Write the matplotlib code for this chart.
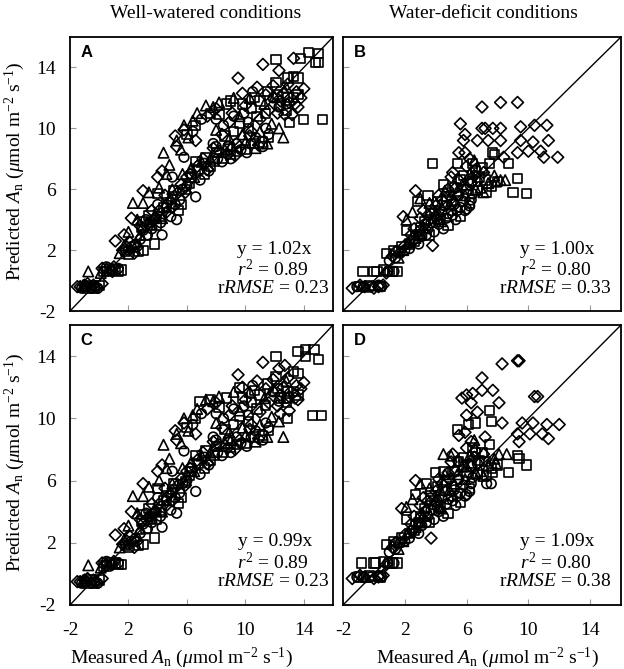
import numpy as np
import matplotlib
matplotlib.use("Agg")
import matplotlib.pyplot as plt

plt.rcParams['font.family'] = ['Liberation Serif', 'DejaVu Serif']
plt.rcParams['mathtext.fontset'] = 'custom'
plt.rcParams['mathtext.rm'] = 'Liberation Serif'
plt.rcParams['mathtext.it'] = 'Liberation Serif:italic'
plt.rcParams['axes.unicode_minus'] = False

# (measured, predicted) pairs, one list per marker and panel
a_squares = [(-1.0, -0.4), (-0.6, -0.3), (-0.3, -0.5), (0.0, -0.3), (0.3, 0.6), (0.7, 0.8), (1.1, 0.7),
             (1.5, 0.7), (1.8, 1.9), (2.4, 2.2), (3.0, 2.0), (3.8, 2.4), (2.9, 3.5), (3.5, 3.8), (4.2, 4.2),
             (4.6, 5.1), (5.0, 5.5), (5.4, 4.6), (5.9, 6.0), (6.3, 6.8), (6.8, 7.3), (7.2, 7.0), (7.6, 7.5),
             (8.0, 8.4), (7.6, 11.0), (8.2, 10.9), (8.6, 9.5), (9.2, 9.8), (9.6, 10.3), (10.2, 10.0),
             (10.6, 12.0), (11.0, 11.8), (11.5, 12.4), (12.1, 13.0), (12.4, 11.5), (12.9, 12.0), (13.3, 13.4),
             (13.6, 13.3), (12.9, 13.3), (13.6, 12.2), (14.3, 15.0), (15.0, 14.9), (14.8, 14.3), (15.0, 14.3),
             (13.8, 14.6), (12.1, 14.5), (14.0, 10.6), (15.3, 10.6), (13.0, 10.4), (9.0, 8.3), (10.0, 8.6),
             (11.2, 9.1), (4.0, 5.7), (3.2, 3.0), (6.0, 9.6), (6.6, 10.2), (9.0, 11.8), (10.4, 11.3),
             (3.0, 3.9), (3.4, 4.3), (3.9, 3.6), (4.4, 4.8), (5.1, 5.9), (5.6, 5.0), (6.2, 6.4), (6.6, 7.8),
             (7.3, 8.1), (7.9, 7.8), (8.5, 8.0), (9.4, 8.5), (10.6, 9.0), (11.6, 9.4), (12.2, 12.2),
             (12.8, 11.2), (13.3, 12.0), (10.8, 10.8), (11.4, 11.0), (9.8, 11.6), (8.7, 11.6), (2.0, 1.7),
             (2.7, 1.9), (-0.8, -0.5), (0.5, 0.6), (1.3, 0.6)]
a_diamonds = [(-1.3, -0.4), (-0.8, -0.2), (-0.2, -0.4), (0.2, -0.2), (0.5, 0.7), (1.0, 0.9), (1.1, 2.6),
              (1.6, 2.0), (2.1, 2.5), (2.6, 2.2), (1.7, 3.0), (2.2, 4.1), (2.8, 3.6), (3.0, 5.9), (3.6, 4.6),
              (4.3, 7.2), (4.0, 6.8), (4.8, 5.2), (5.3, 8.8), (5.2, 9.5), (5.8, 9.9), (5.6, 6.3), (6.2, 7.0),
              (6.6, 9.2), (7.1, 8.0), (7.4, 10.8), (8.0, 11.3), (8.4, 9.6), (8.9, 10.4), (9.5, 13.3),
              (9.8, 12.3), (10.3, 9.5), (10.8, 12.7), (11.2, 14.2), (11.6, 11.2), (11.9, 12.8), (12.2, 11.0),
              (12.6, 12.3), (13.0, 11.7), (13.3, 14.6), (13.5, 12.4), (13.8, 12.0), (13.6, 11.4), (12.7, 10.9),
              (13.2, 10.9), (12.3, 13.8), (14.0, 12.6), (10.9, 8.9), (9.3, 8.2), (5.9, 5.8), (4.6, 4.5),
              (7.8, 8.7), (-1.5, -0.4), (-0.4, -0.3), (0.9, 0.6),
              (3.2, 3.6), (3.7, 4.0), (4.1, 4.6), (4.5, 5.6), (5.0, 4.8), (5.4, 5.8), (6.0, 6.8), (6.7, 7.5),
              (7.4, 7.3), (8.2, 8.5), (8.8, 8.3), (9.6, 8.8), (10.4, 9.8), (11.0, 10.6), (12.4, 11.8),
              (12.9, 12.9), (13.4, 11.6), (11.4, 12.2), (10.0, 11.5), (9.1, 11.0), (1.9, 2.2), (2.4, 1.8),
              (-1.0, -0.3), (0.2, 0.8)]
a_triangles = [(-0.75, 0.6), (-1.1, -0.3), (0.1, 0.5), (1.4, 1.8), (2.3, 5.1), (3.0, 5.1), (2.0, 3.2),
               (2.6, 4.0), (3.4, 5.8), (4.4, 8.4), (4.1, 6.1), (4.8, 7.6), (5.3, 9.2), (5.8, 10.2),
               (6.7, 11.0), (6.4, 10.5), (7.3, 11.5), (8.2, 11.7), (7.0, 7.8), (6.5, 6.8), (8.6, 8.6),
               (9.0, 8.8), (10.0, 9.1), (10.7, 8.7), (11.5, 9.0), (12.6, 9.4), (11.8, 10.3), (9.6, 10.8),
               (10.3, 12.0), (12.0, 12.1), (5.0, 6.0), (3.8, 4.3), (8.0, 9.9), (11.3, 11.6), (12.8, 12.7),
               (2.8, 3.0), (3.5, 3.7), (4.3, 4.1), (4.9, 5.4), (5.7, 7.0), (6.3, 7.4), (7.6, 8.0), (8.9, 9.3),
               (9.8, 9.6), (11.0, 9.8), (12.3, 10.0), (4.6, 7.0), (5.6, 8.6), (6.1, 9.4), (7.8, 11.4),
               (9.2, 12.0), (1.7, 2.3)]
a_circles = [(-0.5, -0.5), (0.5, 0.9), (2.0, 2.0), (2.8, 2.7), (3.2, 4.0), (3.6, 3.4), (4.3, 3.0),
             (4.0, 5.0), (4.6, 4.8), (5.3, 4.0), (5.0, 6.8), (5.5, 5.3), (6.6, 5.5), (6.0, 6.2), (5.8, 8.1),
             (6.4, 9.8), (7.0, 10.6), (6.9, 6.6), (7.5, 7.2), (8.1, 8.0), (8.4, 7.8), (9.0, 8.0), (9.4, 9.0),
             (10.1, 8.4), (10.7, 9.4), (11.2, 8.8), (11.6, 9.6), (9.9, 11.0), (10.5, 12.4), (11.9, 12.0),
             (12.8, 11.6), (8.5, 10.2), (7.8, 9.0), (3.0, 3.3), (2.5, 2.4), (-1.2, -0.5), (-0.9, -0.4),
             (-0.1, -0.5), (1.3, 0.8),
             (3.3, 3.0), (3.9, 4.1), (4.2, 3.8), (4.9, 4.2), (5.2, 5.0), (5.7, 6.0), (6.3, 7.0), (7.2, 7.7),
             (8.0, 8.8), (8.8, 8.8), (9.7, 8.6), (10.4, 9.0), (11.4, 10.0), (12.3, 11.4), (10.2, 10.4),
             (9.2, 10.8), (8.0, 10.6), (2.2, 2.2), (-0.3, -0.4), (0.8, 0.7)]

b_squares = [(-1.0, -0.4), (-0.3, -0.3), (0.4, -0.4), (-0.7, 0.6), (0.2, 0.6), (0.6, 0.7), (1.0, 0.6),
             (1.5, 0.6), (0.8, 1.8), (1.3, 2.0), (1.8, 2.2), (2.1, 3.3), (2.8, 5.2), (3.5, 5.6), (2.6, 2.6),
             (3.0, 3.5), (3.6, 3.0), (3.9, 4.4), (4.3, 4.0), (3.8, 7.7), (4.5, 6.3), (5.0, 5.2), (5.4, 7.7),
             (5.6, 6.6), (6.0, 6.0), (6.4, 7.7), (6.8, 6.8), (7.0, 7.4), (7.3, 5.8), (7.7, 8.4), (7.8, 8.3),
             (8.0, 6.5), (8.7, 7.7), (9.3, 6.7), (9.0, 5.8), (9.9, 5.7), (6.2, 5.1), (4.8, 3.6), (5.6, 4.2),
             (6.7, 5.9),
             (1.6, 1.9), (2.3, 2.4), (2.9, 3.0), (3.3, 3.9), (3.7, 4.6), (4.1, 5.2), (4.7, 5.5), (5.2, 6.1),
             (5.8, 6.9), (6.3, 6.5), (6.6, 7.2), (7.2, 6.6), (7.6, 6.2), (7.5, 7.7), (0.0, 0.6), (1.2, 0.6)]
b_diamonds = [(-1.4, -0.5), (-0.9, -0.3), (0.0, -0.5), (0.6, -0.3), (0.8, 0.5), (1.2, 1.6), (1.9, 4.2),
              (2.7, 5.9), (3.8, 2.3), (2.4, 3.0), (3.2, 4.6), (4.4, 5.3), (5.0, 6.8), (5.5, 8.4), (5.8, 9.2),
              (5.9, 9.6), (5.6, 10.3), (6.7, 9.2), (7.0, 10.0), (7.2, 10.0), (7.4, 9.2), (7.7, 10.0),
              (8.2, 10.0), (8.2, 9.2), (7.0, 11.4), (8.2, 11.7), (9.3, 11.7), (9.5, 10.1), (9.5, 9.2),
              (10.4, 10.2), (11.2, 10.2), (10.3, 9.1), (11.3, 9.2), (10.0, 8.5), (9.3, 8.4), (10.8, 8.5),
              (11.0, 8.1), (11.9, 8.1), (8.4, 8.1), (6.2, 8.0), (6.3, 6.4), (4.0, 4.9), (5.3, 6.1), (6.6, 7.3),
              (1.4, 1.9), (2.0, 2.3), (2.6, 3.4), (3.0, 4.1), (3.5, 4.3), (4.2, 5.6), (4.8, 6.0), (5.1, 7.1),
              (5.5, 6.6), (6.0, 7.5), (6.5, 6.9), (7.1, 7.1), (5.9, 8.4), (-0.6, -0.4), (0.3, -0.4)]
b_triangles = [(-0.5, -0.4), (1.6, 1.5), (2.5, 4.5), (2.2, 2.5), (3.0, 3.1), (3.4, 4.0), (4.1, 4.6),
               (4.6, 5.9), (5.2, 5.3), (5.7, 6.3), (6.2, 7.0), (6.9, 6.1), (7.4, 6.4), (8.2, 6.6), (8.5, 6.6),
               (7.8, 6.9), (5.9, 5.6), (4.4, 3.9), (3.6, 5.1), (6.5, 7.9),
               (1.9, 2.0), (2.7, 2.8), (3.2, 3.5), (3.9, 4.1), (4.3, 5.0), (4.9, 5.0), (5.4, 5.9), (6.0, 6.3),
               (6.6, 6.0), (7.1, 5.8), (7.9, 6.5), (2.1, 4.0), (3.0, 5.4)]
b_circles = [(-1.1, -0.4), (-0.2, -0.4), (0.3, -0.3), (0.9, 0.6), (1.0, 1.3), (1.7, 1.8), (2.3, 2.1),
             (2.9, 2.4), (3.1, 2.9), (3.5, 3.4), (3.9, 3.2), (4.2, 3.7), (4.5, 3.4), (4.7, 4.1), (5.0, 4.6),
             (5.3, 4.0), (5.6, 4.8), (5.9, 4.6), (6.2, 4.9), (4.0, 4.2), (4.9, 5.6), (6.4, 5.7), (6.7, 6.5),
             (5.5, 5.6), (3.3, 3.7), (2.7, 3.0), (4.6, 4.9), (5.2, 5.0),
             (1.4, 1.5), (2.0, 2.0), (2.5, 2.6), (3.0, 3.3), (3.4, 3.0), (3.7, 3.8), (4.1, 4.0), (4.4, 4.5),
             (4.8, 4.4), (5.1, 4.3), (5.4, 4.6), (5.8, 5.2), (6.0, 4.7), (6.3, 5.3), (-0.7, -0.4), (0.5, -0.4),
             (1.3, 0.6)]

c_squares = [(-1.0, -0.5), (-0.6, -0.4), (-0.3, -0.6), (0.0, -0.4), (0.3, 0.5), (0.7, 0.7), (1.1, 0.7),
             (1.5, 0.6), (1.8, 1.8), (2.4, 2.1), (3.0, 1.9), (3.8, 2.3), (2.9, 3.4), (3.5, 3.7), (4.2, 4.1),
             (4.6, 5.0), (5.0, 5.4), (5.4, 4.5), (5.9, 5.9), (6.3, 6.6), (6.8, 7.1), (7.2, 6.8), (7.6, 7.3),
             (8.0, 8.2), (6.9, 11.1), (7.6, 11.2), (8.2, 10.7), (8.6, 9.3), (9.2, 9.6), (9.6, 10.1),
             (10.2, 9.8), (10.6, 11.8), (11.0, 11.5), (11.5, 12.2), (12.1, 12.7), (12.4, 11.3), (12.9, 11.7),
             (13.3, 13.0), (13.6, 12.9), (12.9, 11.3), (13.6, 11.5), (14.1, 14.4), (14.7, 14.4), (15.0, 13.8),
             (14.1, 14.0), (13.6, 14.3), (12.1, 14.0), (14.6, 10.2), (15.2, 10.2), (12.9, 10.0), (9.0, 8.1),
             (10.0, 8.4), (11.2, 8.9), (4.0, 5.5), (3.2, 2.9), (6.0, 9.4), (6.6, 10.0), (9.6, 12.0),
             (10.4, 11.0),
             (3.0, 3.8), (3.4, 4.2), (3.9, 3.5), (4.4, 4.7), (5.1, 5.8), (5.6, 4.9), (6.2, 6.3), (6.6, 7.6),
             (7.3, 7.9), (7.9, 7.6), (8.5, 7.8), (9.4, 8.3), (10.6, 8.8), (11.6, 9.2), (12.2, 11.9),
             (12.8, 11.0), (13.3, 11.7), (10.8, 10.6), (11.4, 10.8), (9.8, 11.3), (8.7, 11.3), (2.0, 1.7),
             (2.7, 1.8), (-0.8, -0.6), (0.5, 0.5), (1.3, 0.6)]
c_diamonds = [(-1.3, -0.5), (-0.8, -0.3), (-0.2, -0.5), (0.2, -0.3), (0.5, 0.6), (1.0, 0.8), (1.1, 2.5),
              (1.6, 1.9), (2.1, 2.4), (2.6, 2.1), (1.7, 2.9), (2.2, 4.0), (2.8, 3.5), (3.0, 5.8), (3.6, 4.5),
              (4.3, 7.0), (4.0, 6.6), (4.8, 5.1), (5.3, 8.6), (5.2, 9.2), (5.8, 9.7), (5.6, 6.1), (6.2, 6.8),
              (6.6, 9.0), (7.1, 7.8), (7.4, 10.6), (8.0, 11.0), (8.4, 9.4), (8.9, 10.2), (9.5, 12.8),
              (9.8, 12.0), (10.3, 9.3), (10.8, 12.4), (11.2, 13.6), (11.6, 11.0), (11.9, 12.5), (12.2, 10.8),
              (12.6, 12.0), (13.0, 11.4), (12.7, 13.4), (13.5, 12.1), (13.8, 11.9), (13.6, 11.2), (12.4, 10.3),
              (13.0, 10.5), (12.3, 13.2), (14.0, 12.3), (10.9, 8.7), (9.3, 8.0), (5.9, 5.7), (4.6, 4.4),
              (7.8, 8.5), (-1.5, -0.5), (-0.4, -0.4), (0.9, 0.6),
              (3.2, 3.5), (3.7, 3.9), (4.1, 4.5), (4.5, 5.5), (5.0, 4.7), (5.4, 5.7), (6.0, 6.6), (6.7, 7.3),
              (7.4, 7.1), (8.2, 8.3), (8.8, 8.1), (9.6, 8.6), (10.4, 9.6), (11.0, 10.4), (12.4, 11.5),
              (12.9, 12.6), (13.4, 11.3), (11.4, 11.9), (10.0, 11.2), (9.1, 10.8), (1.9, 2.1), (2.4, 1.7),
              (-1.0, -0.4), (0.2, 0.7)]
c_triangles = [(-0.75, 0.55), (-1.1, -0.4), (0.1, 0.4), (1.4, 1.7), (2.3, 5.0), (3.0, 5.0), (2.0, 3.1),
               (2.6, 3.9), (3.4, 5.6), (4.4, 8.3), (4.1, 6.0), (4.8, 7.4), (5.3, 9.0), (5.8, 10.0),
               (6.7, 10.6), (6.4, 10.2), (7.3, 11.2), (8.2, 11.4), (7.0, 7.6), (6.5, 6.6), (8.6, 8.4),
               (9.0, 8.6), (10.0, 8.9), (10.7, 8.5), (11.5, 8.8), (12.6, 8.8), (11.8, 10.1), (9.6, 10.5),
               (10.3, 11.7), (12.0, 11.8), (5.0, 5.8), (3.8, 4.2), (8.0, 9.7), (11.3, 11.3), (12.8, 12.4),
               (2.8, 2.9), (3.5, 3.6), (4.3, 4.0), (4.9, 5.3), (5.7, 6.8), (6.3, 7.2), (7.6, 7.8), (8.9, 9.1),
               (9.8, 9.4), (11.0, 9.6), (12.3, 9.8), (4.6, 6.8), (5.6, 8.4), (6.1, 9.2), (7.8, 11.1),
               (9.2, 11.7), (1.7, 2.2)]
c_circles = [(-0.5, -0.6), (0.5, 0.8), (2.0, 1.9), (2.8, 2.6), (3.2, 3.9), (3.6, 3.3), (4.3, 3.0),
             (4.0, 4.9), (4.6, 4.7), (5.3, 3.9), (5.0, 6.6), (5.5, 5.2), (6.6, 5.3), (6.0, 6.0), (5.8, 7.9),
             (6.4, 9.6), (7.0, 10.3), (6.9, 6.4), (7.5, 7.0), (8.1, 7.8), (8.4, 7.6), (9.0, 7.8), (9.4, 8.8),
             (10.1, 8.2), (10.7, 9.2), (11.2, 8.6), (11.6, 9.4), (9.9, 10.8), (10.5, 12.1), (11.9, 11.7),
             (12.8, 11.3), (8.5, 10.0), (7.8, 8.8), (3.0, 3.2), (2.5, 2.3), (-1.2, -0.6), (-0.9, -0.5),
             (-0.1, -0.6), (1.3, 0.7),
             (3.3, 2.9), (3.9, 4.0), (4.2, 3.7), (4.9, 4.1), (5.2, 4.9), (5.7, 5.8), (6.3, 6.8), (7.2, 7.5),
             (8.0, 8.6), (8.8, 8.6), (9.7, 8.4), (10.4, 8.8), (11.4, 9.7), (12.3, 11.1), (10.2, 10.2),
             (9.2, 10.6), (8.0, 10.3), (2.2, 2.1), (-0.3, -0.5), (0.8, 0.6)]

d_squares = [(-1.0, -0.2), (-0.3, -0.1), (0.4, -0.2), (-0.8, 0.7), (0.1, 0.7), (0.6, 0.8), (1.0, 0.7),
             (1.5, 0.7), (0.8, 1.9), (1.3, 2.1), (1.8, 2.3), (2.1, 3.5), (2.7, 5.1), (3.4, 5.8), (2.6, 2.8),
             (3.0, 3.7), (3.6, 3.3), (3.9, 4.7), (4.3, 4.3), (5.4, 9.3), (6.1, 9.6), (6.6, 9.7), (7.5, 10.5),
             (7.6, 9.8), (4.5, 6.6), (5.0, 5.6), (5.5, 7.2), (5.8, 7.0), (6.0, 6.5), (6.4, 8.1), (6.8, 7.3),
             (7.0, 7.8), (7.3, 6.3), (7.7, 6.5), (8.0, 7.0), (8.7, 6.5), (9.3, 7.6), (9.4, 7.4), (9.9, 7.0),
             (6.2, 5.5), (4.8, 3.9), (5.6, 4.6), (6.7, 6.4), (4.0, 6.5),
             (1.6, 2.0), (2.3, 2.6), (2.9, 3.3), (3.3, 4.2), (3.7, 5.0), (4.1, 5.6), (4.7, 6.0), (5.2, 6.6),
             (5.8, 7.5), (6.3, 7.1), (6.6, 7.8), (7.2, 7.2), (7.6, 6.8), (7.5, 8.3), (0.0, 0.7), (1.2, 0.7)]
d_diamonds = [(-1.4, -0.3), (-0.9, -0.1), (0.0, -0.3), (0.6, -0.1), (0.8, 0.6), (1.2, 1.7), (1.8, 4.2),
              (2.7, 6.0), (3.7, 2.3), (2.4, 3.2), (3.2, 4.9), (4.4, 5.8), (5.0, 7.2), (5.7, 11.3), (6.0, 11.5),
              (6.4, 11.6), (7.0, 11.8), (7.7, 11.8), (6.3, 11.0), (8.1, 11.0), (6.7, 10.4), (6.0, 10.2),
              (8.3, 9.7), (7.0, 12.6), (8.3, 13.5), (9.4, 13.7), (9.3, 13.7), (10.4, 11.4), (10.6, 11.4),
              (9.6, 9.7), (10.3, 9.7), (11.2, 9.6), (12.0, 9.6), (9.3, 9.0), (10.1, 9.0), (10.9, 9.0),
              (11.3, 8.7), (9.4, 8.5), (5.5, 8.9), (6.3, 8.5), (6.3, 6.9), (4.0, 5.3), (5.3, 6.6), (6.6, 7.9),
              (7.2, 8.8),
              (1.4, 2.0), (2.0, 2.5), (2.6, 3.7), (3.0, 4.4), (3.5, 4.7), (4.2, 6.1), (4.8, 6.5), (5.1, 7.7),
              (5.5, 7.2), (6.0, 8.1), (6.5, 7.5), (7.1, 7.7), (5.9, 9.1), (-0.6, -0.2), (0.3, -0.2)]
d_triangles = [(-0.5, -0.2), (1.6, 1.6), (2.5, 4.8), (2.2, 2.7), (3.0, 3.3), (3.4, 4.3), (4.1, 5.0),
               (4.6, 6.4), (5.2, 5.8), (5.7, 6.9), (6.2, 7.6), (6.9, 6.6), (7.4, 7.0), (8.1, 7.7), (8.6, 7.7),
               (7.8, 7.4), (5.9, 6.1), (4.4, 4.2), (3.6, 5.5), (6.5, 8.6), (4.5, 7.7), (5.0, 7.6),
               (1.9, 2.1), (2.7, 3.0), (3.2, 3.8), (3.9, 4.5), (4.3, 5.4), (4.9, 5.4), (5.4, 6.4), (6.0, 6.9),
               (6.6, 6.5), (7.1, 6.3), (7.9, 7.1), (2.1, 4.3), (3.0, 5.8)]
d_circles = [(-1.1, -0.2), (-0.2, -0.2), (0.3, -0.1), (0.9, 0.7), (1.0, 1.4), (1.7, 2.0), (2.3, 2.3),
             (2.9, 2.6), (3.1, 3.1), (3.5, 3.7), (3.9, 3.5), (4.2, 4.0), (4.5, 3.7), (4.7, 4.5), (5.0, 5.0),
             (5.3, 4.4), (5.6, 5.2), (5.9, 5.0), (6.2, 5.3), (4.0, 4.6), (4.9, 6.1), (6.4, 6.2), (6.7, 7.1),
             (5.5, 6.1), (3.3, 4.0), (2.7, 3.2), (7.3, 5.8), (7.6, 5.8), (4.6, 5.3), (5.2, 5.4),
             (1.4, 1.6), (2.0, 2.1), (2.5, 2.8), (3.0, 3.6), (3.4, 3.3), (3.7, 4.1), (4.1, 4.3), (4.4, 4.9),
             (4.8, 4.8), (5.1, 4.7), (5.4, 5.0), (5.8, 5.7), (6.0, 5.1), (6.3, 5.8), (-0.7, -0.2), (0.5, -0.2),
             (1.3, 0.7)]

fit_lines = ['y = 1.02x', 'y = 1.00x', 'y = 0.99x', 'y = 1.09x']
r2_values = ['0.89', '0.80', '0.89', '0.80']
rrmse_values = ['0.23', '0.33', '0.23', '0.38']
panel_letters = ['A', 'B', 'C', 'D']
ticks = [-2, 2, 6, 10, 14]

panels = [
    [a_squares, a_diamonds, a_triangles, a_circles],
    [b_squares, b_diamonds, b_triangles, b_circles],
    [c_squares, c_diamonds, c_triangles, c_circles],
    [d_squares, d_diamonds, d_triangles, d_circles],
]
markers = [('s', 44), ('D', 36), ('^', 56), ('o', 48)]

# axes boxes in figure fractions [left, bottom, width, height]
boxes = [
    [0.1122, 0.5351, 0.4215, 0.4096],
    [0.5497, 0.5351, 0.4455, 0.4096],
    [0.1122, 0.0957, 0.4215, 0.4185],
    [0.5497, 0.0957, 0.4455, 0.4185],
]

fig = plt.figure(figsize=(6.24, 6.69), dpi=100)

for i in range(4):
    ax = fig.add_axes(boxes[i])
    for pts, (m, s) in zip(panels[i], markers):
        arr = np.array(pts)
        ax.scatter(arr[:, 0], arr[:, 1], marker=m, s=s, facecolors='none',
                   edgecolors='black', linewidths=1.2, zorder=3)
    ax.plot([-2, 16], [-2, 16], color='black', linewidth=1.0, zorder=4)
    ax.set_xlim(-2, 16)
    ax.set_ylim(-2, 16)
    ax.set_xticks(ticks)
    ax.set_yticks(ticks)
    ax.tick_params(direction='in', length=4, width=0.8, labelsize=14, color='#999999')
    ax.tick_params(axis='x', pad=12)
    ax.tick_params(axis='y', pad=10)
    if i in (1, 3):
        ax.set_yticklabels([])
    if i in (0, 1):
        ax.set_xticklabels([])
    for sp in ax.spines.values():
        sp.set_linewidth(1.3)

    ax.text(0.04, 0.97, panel_letters[i], transform=ax.transAxes, ha='left', va='top',
            fontsize=12, fontweight='bold', family=['Liberation Sans', 'DejaVu Sans'])
    rx = 0.92 if i in (0, 2) else 0.906
    ax.text(rx, 0.225, fit_lines[i], transform=ax.transAxes, ha='right', va='center', fontsize=14)
    ax.text(rx - 0.012, 0.153, r'$\mathit{r}^{2}$ = ' + r2_values[i], transform=ax.transAxes,
            ha='right', va='center', fontsize=14)
    ax.text(0.985 if i in (0, 2) else 0.965, 0.083, r'r$\mathit{RMSE}$ = ' + rrmse_values[i],
            transform=ax.transAxes, ha='right', va='center', fontsize=14)

fig.text(206 / 624, 1 - 14 / 669, 'Well-watered conditions', ha='center', va='center', fontsize=14)
fig.text(483 / 624, 1 - 14 / 669, 'Water-deficit conditions', ha='center', va='center', fontsize=14)

ylab = r'Predicted $\mathit{A}_{\mathrm{n}}$ ($\mu$mol m$^{\mathrm{-2}}$ s$^{\mathrm{-1}}$)'
xlab = r'Measured $\mathit{A}_{\mathrm{n}}$ ($\mu$mol m$^{\mathrm{-2}}$ s$^{\mathrm{-1}}$)'
fig.text(15 / 624, 1 - 171 / 669, ylab, rotation=90, ha='center', va='center', fontsize=14)
fig.text(15 / 624, 1 - 462 / 669, ylab, rotation=90, ha='center', va='center', fontsize=14)
fig.text(181 / 624, 1 - 658 / 669, xlab, ha='center', va='center', fontsize=14)
fig.text(487 / 624, 1 - 658 / 669, xlab, ha='center', va='center', fontsize=14)

fig.savefig('out.png', dpi=100)
